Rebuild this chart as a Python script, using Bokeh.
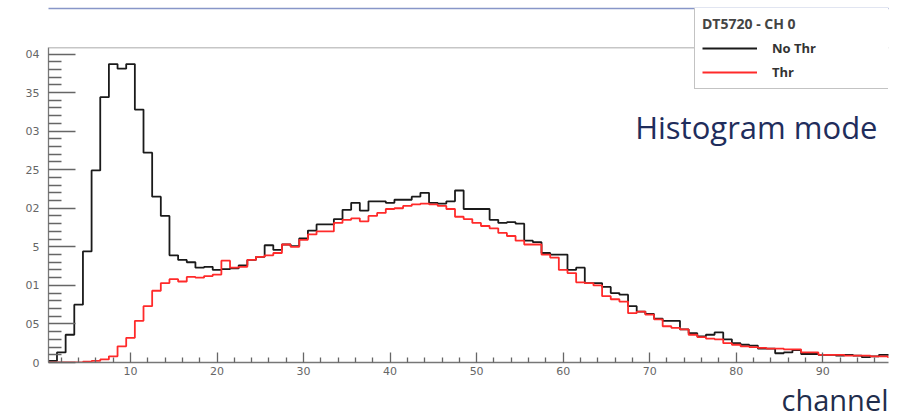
from bokeh.plotting import figure
from bokeh.models import (Range1d, FixedTicker, LinearAxis, Legend, LegendItem,
                          Label, Span, Title)
from bokeh.embed import file_html
from bokeh.resources import INLINE

# ---------------- data ----------------
channels = list(range(1, 99))

no_thr = [
    0.0002, 0.0013, 0.0036, 0.0075, 0.0144, 0.0249, 0.0344, 0.0387, 0.0381, 0.0387,
    0.0328, 0.0272, 0.0215, 0.0190, 0.0139, 0.0133, 0.0130, 0.0123, 0.0124, 0.0120,
    0.0121, 0.0122, 0.0126, 0.0133, 0.0137, 0.0152, 0.0146, 0.0153, 0.0151, 0.0161,
    0.0171, 0.0179, 0.0179, 0.0186, 0.0198, 0.0207, 0.0197, 0.0209, 0.0209, 0.0207,
    0.0211, 0.0211, 0.0215, 0.0220, 0.0207, 0.0206, 0.0209, 0.0223, 0.0199, 0.0199,
    0.0199, 0.0185, 0.0181, 0.0182, 0.0180, 0.0158, 0.0156, 0.0142, 0.0140, 0.0140,
    0.0120, 0.0123, 0.0103, 0.0103, 0.0098, 0.0090, 0.0088, 0.0073, 0.0066, 0.0063,
    0.0057, 0.0054, 0.0054, 0.0043, 0.0038, 0.0034, 0.0036, 0.0039, 0.0030, 0.0025,
    0.0023, 0.0022, 0.0018, 0.0018, 0.0012, 0.0013, 0.0016, 0.0011, 0.0011, 0.0010,
    0.0010, 0.0009, 0.0010, 0.0009, 0.0007, 0.0008, 0.0010, 0.0010,
]

thr = [
    0.0000, 0.0000, 0.0000, 0.0000, 0.0001, 0.0002, 0.0004, 0.0008, 0.0021, 0.0032,
    0.0054, 0.0073, 0.0093, 0.0103, 0.0108, 0.0105, 0.0111, 0.0110, 0.0112, 0.0114,
    0.0132, 0.0123, 0.0124, 0.0133, 0.0137, 0.0139, 0.0142, 0.0153, 0.0150, 0.0159,
    0.0166, 0.0170, 0.0170, 0.0181, 0.0185, 0.0187, 0.0183, 0.0190, 0.0194, 0.0199,
    0.0200, 0.0203, 0.0205, 0.0206, 0.0205, 0.0203, 0.0199, 0.0189, 0.0186, 0.0181,
    0.0177, 0.0174, 0.0168, 0.0164, 0.0158, 0.0153, 0.0153, 0.0140, 0.0136, 0.0120,
    0.0116, 0.0104, 0.0103, 0.0100, 0.0086, 0.0082, 0.0079, 0.0064, 0.0066, 0.0062,
    0.0056, 0.0047, 0.0045, 0.0043, 0.0036, 0.0033, 0.0031, 0.0030, 0.0025, 0.0023,
    0.0021, 0.0020, 0.0019, 0.0018, 0.0018, 0.0017, 0.0017, 0.0013, 0.0013, 0.0010,
    0.0010, 0.0010, 0.0009, 0.0009, 0.0009, 0.0008, 0.0008, 0.0007,
]

x_major = [10, 20, 30, 40, 50, 60, 70, 80, 90]
x_minor = [2, 4, 6, 8, 12, 14, 16, 18, 22, 24, 26, 28, 32, 34, 36, 38, 42, 44, 46, 48,
           52, 54, 56, 58, 62, 64, 66, 68, 72, 74, 76, 78, 82, 84, 86, 88, 92, 94, 96]
y_major = [0.0, 0.005, 0.01, 0.015, 0.02, 0.025, 0.03, 0.035, 0.04]
y_major_labels = ["0", "05", "01", "5", "02", "25", "03", "35", "04"]
y_minor = [0.001, 0.002, 0.003, 0.004, 0.006, 0.007, 0.008, 0.009,
           0.011, 0.012, 0.013, 0.014, 0.016, 0.017, 0.018, 0.019,
           0.021, 0.022, 0.023, 0.024, 0.026, 0.027, 0.028, 0.029,
           0.031, 0.032, 0.033, 0.034, 0.036, 0.037, 0.038, 0.039]

legend_title = "DT5720 - CH 0"
series_names = ["No Thr", "Thr"]
x_title = "channel"
mode_text = "Histogram mode"

# ranges: histogram pad top at 0.0408, canvas area above reaches 0.0459
x_start, x_end = 0.52, 97.6
y_frame_top = 0.0408
y_end = 0.0459

# bin edges (bins of width 1 centred on each channel)
edges = [c - 0.5 for c in channels] + [channels[-1] + 0.5]
no_thr_steps = no_thr + [no_thr[-1]]
thr_steps = thr + [thr[-1]]

# ---------------- figure ----------------
p = figure(width=900, height=418, output_backend="svg", toolbar_location=None,
           x_range=Range1d(x_start, x_end), y_range=Range1d(0, y_end),
           min_border_left=48, min_border_right=12, min_border_top=8,
           min_border_bottom=55)
p.grid.visible = False
p.outline_line_color = None
p.background_fill_color = "white"
p.border_fill_color = "white"

axis_gray = "#666666"
# x axis
xa = p.xaxis[0]
xa.ticker = FixedTicker(ticks=x_major, minor_ticks=x_minor)
xa.axis_line_color = "#777777"
xa.axis_line_width = 1.3
xa.major_tick_in = 10
xa.major_tick_out = 0
xa.minor_tick_in = 5
xa.minor_tick_out = 0
xa.major_tick_line_color = axis_gray
xa.minor_tick_line_color = axis_gray
xa.major_tick_line_width = 1.3
xa.minor_tick_line_width = 1.3
xa.major_label_standoff = 4
xa.major_label_text_font = "DejaVu Sans"
xa.major_label_text_font_size = "11px"
xa.major_label_text_color = "#666666"

# y axis
ya = p.yaxis[0]
ya.ticker = FixedTicker(ticks=y_major, minor_ticks=y_minor)
ya.bounds = (0, y_frame_top)
ya.major_label_overrides = {v: s for v, s in zip(y_major, y_major_labels)}
ya.axis_line_color = "#777777"
ya.axis_line_width = 1.3
ya.major_tick_in = 27
ya.major_tick_out = 0
ya.minor_tick_in = 13
ya.minor_tick_out = 0
ya.major_tick_line_color = axis_gray
ya.minor_tick_line_color = axis_gray
ya.major_tick_line_width = 1.3
ya.minor_tick_line_width = 1.3
ya.major_label_standoff = 9
ya.major_label_text_font = "DejaVu Sans"
ya.major_label_text_font_size = "11px"
ya.major_label_text_color = "#666666"

# slide rule line along the very top (an empty axis above)
top_axis = LinearAxis(ticker=FixedTicker(ticks=[]), axis_line_color="#8896c8",
                      axis_line_width=1.5, major_tick_line_color=None,
                      minor_tick_line_color=None, major_tick_out=0, minor_tick_out=0,
                      major_label_standoff=0, major_label_text_font_size="0px")
p.add_layout(top_axis, "above")

# histogram pad top line
p.add_layout(Span(location=y_frame_top, dimension="width",
                  line_color="#aaaaaa", line_width=1))

# histograms
r_black = p.step(edges, no_thr_steps, mode="after", line_color="#1a1a1a", line_width=1.8)
r_red = p.step(edges, thr_steps, mode="after", line_color="#ff2a2a", line_width=1.8)

legend = Legend(
    items=[LegendItem(label=series_names[0], renderers=[r_black]),
           LegendItem(label=series_names[1], renderers=[r_red])],
    title=legend_title, location=(646, 273), orientation="vertical",
    border_line_color="#888888", border_line_width=1,
    background_fill_color="white", background_fill_alpha=1,
    padding=7, spacing=6, margin=0,
    glyph_width=55, glyph_height=18, label_height=18, label_width=110,
    label_standoff=15, title_standoff=6,
    label_text_font="Open Sans", label_text_font_size="13px",
    label_text_font_style="bold", label_text_color="#333333",
    title_text_font="Open Sans", title_text_font_size="14px",
    title_text_font_style="bold", title_text_color="#444444",
)
p.add_layout(legend)

# annotations
p.add_layout(Label(x=829, y=236, x_units="screen", y_units="screen",
                   text=mode_text, text_align="right", text_baseline="alphabetic",
                   text_font="Open Sans", text_font_size="31px", text_color="#1f2d5c"))

p.add_layout(Title(text=x_title, align="right", text_font="Open Sans",
                   text_font_size="29px", text_font_style="normal",
                   text_color="#1f2d4c", standoff=0, offset=0), "below")

open("out.html", "w").write(file_html(p, INLINE))
